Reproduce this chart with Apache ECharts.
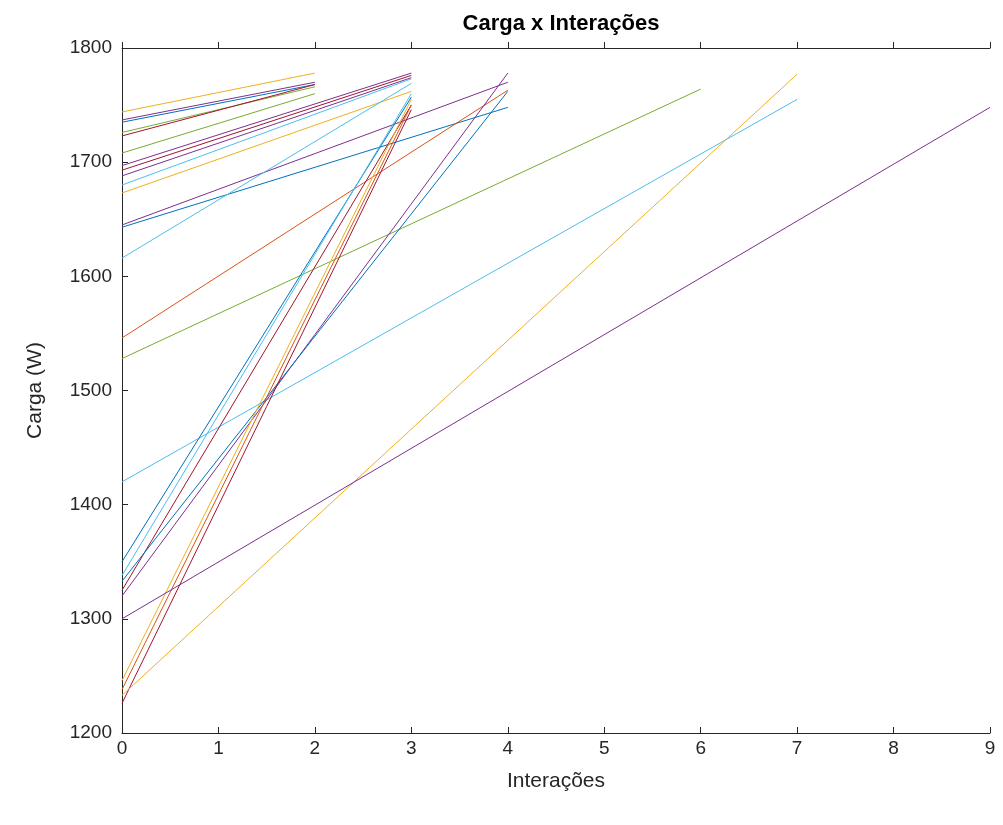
<!DOCTYPE html>
<html>
<head>
<meta charset="utf-8">
<script src="https://cdn.jsdelivr.net/npm/echarts@6/dist/echarts.min.js"></script>
<style>html,body{margin:0;padding:0;background:#fff}#c{width:1003px;height:825px}</style>
</head>
<body>
<div id="c"></div>
<script>
// Each run: starts at iteration 0 and ends at lastIteration
const lastIteration = [2, 2, 2, 2, 2, 2, 3, 3, 3, 3, 3, 4, 4, 3, 4, 6, 7, 3, 3, 3, 4, 4, 3, 3, 3, 7, 9];
const startLoad     = [1744, 1737, 1735, 1726, 1723, 1708, 1697, 1693, 1688, 1680, 1673, 1645, 1643, 1616, 1546, 1528, 1420, 1350, 1338, 1325, 1320, 1333, 1246, 1238, 1226, 1233, 1300];
const finalLoad     = [1778, 1770, 1768, 1766, 1768, 1760, 1778, 1776, 1774, 1773, 1762, 1770, 1748, 1769, 1763, 1764, 1755, 1757, 1760, 1750, 1778, 1762, 1755, 1750, 1746, 1777, 1748];
const xTicks = [0, 1, 2, 3, 4, 5, 6, 7, 8, 9];
const yTicks = [1200, 1300, 1400, 1500, 1600, 1700, 1800];

const C = {b:'#0072BD', o:'#D95319', y:'#EDB120', p:'#7E2F8E', g:'#77AC30', l:'#4DBEEE', r:'#A2142F'};
const runColors = ['y','p','b','g','r','g','p','r','p','l','y','p','b','l','o','g','l','b','l','r','p','b','y','o','r','y','p'].map(k => C[k]);

const series = lastIteration.map((n, i) => ({
  type: 'line',
  data: [[0, startLoad[i]], [n, finalLoad[i]]],
  showSymbol: false,
  symbol: 'none',
  silent: true,
  lineStyle: {width: 1, color: runColors[i]},
  xAxisIndex: 0, yAxisIndex: 0
}));

const font = '"Liberation Sans", Arial, Helvetica, sans-serif';
const axisCol = '#262626';
const mk = (inside) => ({
  axisLine: {show: true, lineStyle: {color: axisCol, width: 1}},
  axisTick: {show: true, inside: inside, length: 6, lineStyle: {color: axisCol}},
  splitLine: {show: false}
});

const chart = echarts.init(document.getElementById('c'), null, {renderer: 'canvas'});
chart.setOption({
  animation: false,
  backgroundColor: '#fff',
  title: {
    text: 'Carga x Interações',
    left: 556, top: 8, textAlign: 'center',
    textStyle: {fontFamily: font, fontSize: 22, fontWeight: 'bold', color: '#000'}
  },
  grid: {left: 122, right: 13, top: 48, bottom: 92, containLabel: false},
  xAxis: [
    Object.assign({
      type: 'value', min: xTicks[0], max: xTicks[xTicks.length-1], interval: 1, position: 'bottom',
      name: 'Interações', nameLocation: 'middle', nameGap: 38,
      nameTextStyle: {fontFamily: font, fontSize: 21, color: axisCol},
      axisLabel: {fontFamily: font, fontSize: 19, color: axisCol, margin: 6}
    }, mk(true)),
    Object.assign({
      type: 'value', min: xTicks[0], max: xTicks[xTicks.length-1], interval: 1, position: 'top',
      axisLabel: {show: false}
    }, mk(false))
  ],
  yAxis: [
    Object.assign({
      type: 'value', min: yTicks[0], max: yTicks[yTicks.length-1], interval: 100, position: 'left',
      name: 'Carga (W)', nameLocation: 'middle', nameGap: 76,
      nameTextStyle: {fontFamily: font, fontSize: 21, color: axisCol},
      axisLabel: {fontFamily: font, fontSize: 19, color: axisCol, margin: 10, formatter: v => String(v)}
    }, mk(true)),
    Object.assign({
      type: 'value', min: yTicks[0], max: yTicks[yTicks.length-1], interval: 100, position: 'right',
      axisLabel: {show: false}
    }, mk(false))
  ],
  series: series
});
</script>
</body>
</html>
